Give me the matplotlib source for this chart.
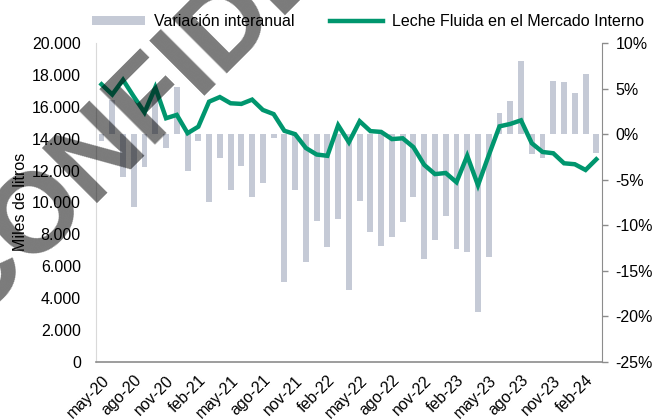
import numpy as np
import matplotlib.pyplot as plt
from matplotlib.ticker import FuncFormatter

plt.rcParams['font.family'] = ['Liberation Sans', 'DejaVu Sans']
plt.rcParams['font.size'] = 11.5

meses = ['may-20', 'jun-20', 'jul-20', 'ago-20', 'sep-20', 'oct-20', 'nov-20', 'dic-20',
         'ene-21', 'feb-21', 'mar-21', 'abr-21', 'may-21', 'jun-21', 'jul-21', 'ago-21',
         'sep-21', 'oct-21', 'nov-21', 'dic-21', 'ene-22', 'feb-22', 'mar-22', 'abr-22',
         'may-22', 'jun-22', 'jul-22', 'ago-22', 'sep-22', 'oct-22', 'nov-22', 'dic-22',
         'ene-23', 'feb-23', 'mar-23', 'abr-23', 'may-23', 'jun-23', 'jul-23', 'ago-23',
         'sep-23', 'oct-23', 'nov-23', 'dic-23', 'ene-24', 'feb-24', 'mar-24']

# leche fluida, miles de litros
leche = [17420, 16780, 17700, 16650, 15650, 17230, 15290, 15500, 14350, 14760,
         16330, 16620, 16230, 16190, 16460, 15810, 15550, 14500, 14290, 13420,
         13010, 12930, 14850, 13780, 15100, 14480, 14430, 13980, 14030, 13470,
         12360, 11780, 11850, 11270, 12930, 11080, 12960, 14780, 14930, 15160,
         13720, 13170, 13090, 12460, 12400, 12040, 12710]

# variacion interanual, %
variacion = [-0.7, 3.8, -4.7, -8.0, -3.6, 4.9, -1.5, 5.2, -4.0, -0.7,
             -7.4, -2.6, -6.1, -3.5, -6.9, -5.4, -0.4, -16.2, -6.1, -14.1,
             -9.5, -12.4, -9.3, -17.1, -7.3, -10.8, -12.3, -11.3, -9.7, -6.9,
             -13.7, -11.6, -9.0, -12.6, -13.0, -19.5, -13.5, 2.3, 3.6, 8.1,
             -2.2, -2.6, 5.9, 5.7, 4.5, 6.6, -2.1]

verde = '#00966E'
gris_barra = '#C5CAD6'

x = np.arange(len(meses))

fig = plt.figure(figsize=(6.54, 4.2), dpi=100)
ax = fig.add_axes([0.147, 0.139, 0.773, 0.758])
ax2 = ax.twinx()

barras = ax2.bar(x, variacion, width=0.55, color=gris_barra, label='Variación interanual')
linea, = ax.plot(x, leche, color=verde, lw=3.2, solid_joinstyle='miter',
                 label='Leche Fluida en el Mercado Interno')

# line above the bars
ax.set_zorder(ax2.get_zorder() + 1)
ax.patch.set_visible(False)

ax.set_xlim(-0.5, len(meses) - 0.5)
ax.set_ylim(0, 20000)
ax.set_yticks(np.arange(0, 20001, 2000))
ax.yaxis.set_major_formatter(FuncFormatter(lambda v, p: f'{int(v):,}'.replace(',', '.')))
ax2.set_ylim(-25, 10)
ax2.set_yticks(np.arange(-25, 11, 5))
ax2.yaxis.set_major_formatter(FuncFormatter(lambda v, p: f'{int(v)}%'))

ax.set_xticks(x[::3])
ax.set_xticklabels(meses[::3], rotation=45, ha='right', rotation_mode='anchor')
ax.tick_params(axis='x', length=0, pad=8)
ax.tick_params(axis='y', length=0, pad=11)
ax2.tick_params(axis='y', length=4, width=1, color='#8C8C8C', pad=6)

for a in (ax, ax2):
    a.spines['top'].set_visible(False)
ax.spines['right'].set_visible(False)
ax.spines['left'].set_color('#D9D9D9')
ax.spines['bottom'].set_color('#8C8C8C')
ax.spines['bottom'].set_linewidth(1.2)
ax2.spines['left'].set_visible(False)
ax2.spines['bottom'].set_visible(False)
ax2.spines['right'].set_color('#8C8C8C')

fig.text(21 / 654, 1 - 202 / 420, 'Miles de litros', rotation=90, ha='center', va='center')

fig.legend([barras, linea], ['Variación interanual', 'Leche Fluida en el Mercado Interno'],
           loc='center', bbox_to_anchor=(0.563, 0.948), ncol=2, frameon=False,
           handlelength=3.3, handleheight=0.5, handletextpad=0.6, columnspacing=2.2)

# watermark
fig.text(-0.0454, 0.2245, 'CONFIDENCIAL', fontsize=82, fontweight='bold', rotation=45,
         rotation_mode='anchor', ha='left', va='baseline', color='black', alpha=0.52, zorder=10)

fig.savefig('out.png', dpi=100)
